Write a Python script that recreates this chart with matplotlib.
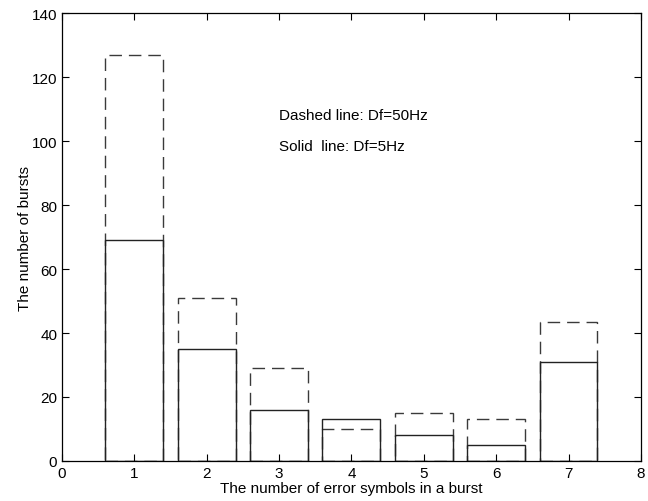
import matplotlib
matplotlib.use("Agg")
import matplotlib.pyplot as plt

plt.rcParams['font.family'] = ['Liberation Sans', 'DejaVu Sans']

categories = [1, 2, 3, 4, 5, 6, 7]
dashed_50hz = [127, 51, 29, 10, 15, 13, 43.5]
solid_5hz = [69, 35, 16, 13, 8, 5, 31]

fig = plt.figure(figsize=(6.48, 5.02), dpi=100)
ax = fig.add_axes([0.0957, 0.0797, 0.8933, 0.8923])

ax.bar(categories, dashed_50hz, width=0.8, fill=False, edgecolor='#3a3a3a',
       linestyle=(0, (9, 5)), linewidth=1.0)
ax.bar(categories, solid_5hz, width=0.8, fill=False, edgecolor='#222222',
       linestyle='-', linewidth=1.0)

ax.set_xlim(0, 8)
ax.set_ylim(0, 140)
ax.set_xticks(range(0, 9))
ax.set_yticks(range(0, 141, 20))
ax.tick_params(direction='in', top=True, right=True, labelsize=11, length=5)
for s in ax.spines.values():
    s.set_linewidth(0.9)

ax.set_xlabel('The number of error symbols in a burst', fontsize=11, labelpad=1)
ax.set_ylabel('The number of bursts', fontsize=11, labelpad=0)

ax.text(3.0, 108, 'Dashed line: Df=50Hz', fontsize=11, va='center', ha='left')
ax.text(3.0, 98.5, 'Solid  line: Df=5Hz', fontsize=11, va='center', ha='left')

fig.savefig('out.png', dpi=100)
